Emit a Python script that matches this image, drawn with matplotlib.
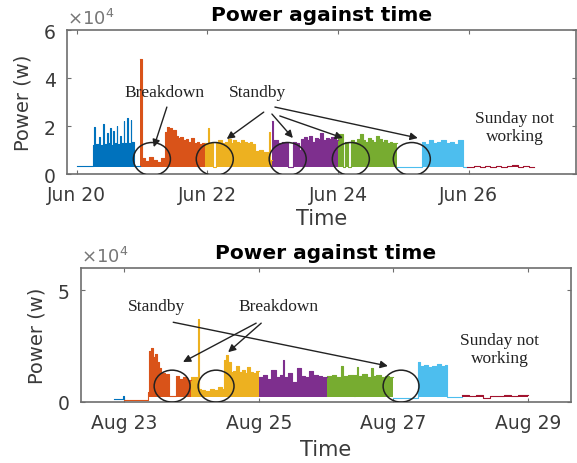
import matplotlib
matplotlib.use("Agg")
import matplotlib.pyplot as plt
import matplotlib.dates as mdates
from matplotlib.patches import Ellipse
import numpy as np

# MATLAB default line colours, one per day
day_colors = ["#0072BD", "#D95319", "#EDB120", "#7E2F8E", "#77AC30", "#4DBEEE", "#A2142F"]

# ---- June week: hours since Jun 20 00:00, power in units of 1e4 W ----
jun_start = "2017-06-20"
jun_t = [
    [0.0, 5.9, 6.5, 6.8, 8.3, 8.6, 9.8, 10.1, 11.0, 11.3, 12.2, 12.5, 13.3, 13.6, 14.6, 14.9,
     15.9, 16.2, 17.2, 17.5, 18.6, 18.9, 19.8, 20.1, 20.9, 23.4],
    [23.4, 23.8, 25.0, 26.5, 28.0, 29.5, 31.0, 32.4, 33.0, 33.8, 34.3, 35.0, 35.5, 36.5, 37.2,
     38.0, 39.0, 40.0, 41.0, 42.0, 43.0, 44.0, 45.0, 46.0, 47.0],
    [47.0, 48.3, 48.7, 50.0, 51.2, 52.0, 53.5, 54.5, 55.5, 56.5, 57.5, 58.5, 59.5, 60.5, 61.5,
     62.5, 63.5, 64.5, 65.4, 67.0, 68.5, 70.6, 71.0, 71.8],
    [71.8, 72.1, 72.4, 74.0, 75.5, 77.5, 79.4, 80.5, 81.5, 82.5, 83.5, 84.5, 85.5, 86.5, 87.5,
     88.5, 89.5, 90.5, 91.5, 92.5, 93.5, 94.5, 95.3, 96.0],
    [96.0, 97.7, 98.4, 99.6, 100.8, 102.0, 103.0, 104.0, 105.0, 106.0, 107.0, 108.0, 109.0,
     110.0, 111.0, 112.0, 113.0, 114.0, 115.0, 116.0, 117.6],
    [117.6, 126.7, 128.0, 129.5, 131.0, 132.5, 134.0, 135.5, 137.0, 138.5, 140.0, 141.8, 143.5],
    [143.5, 146.0, 148.0, 150.0, 152.0, 154.0, 156.0, 158.0, 160.0, 162.0, 164.0, 166.0, 168.0],
]
jun_p = [
    [0.35, 1.2, 1.95, 1.25, 1.55, 1.2, 2.1, 1.25, 1.7, 1.3, 1.9, 1.2, 1.8, 1.3, 2.0, 1.25,
     1.6, 1.3, 2.2, 1.3, 2.35, 1.3, 2.25, 1.35, 0.32, 0.32],
    [4.8, 0.65, 0.55, 0.7, 0.6, 0.5, 0.65, 1.75, 1.95, 1.8, 1.9, 1.7, 1.85, 1.6, 1.5,
     1.55, 1.4, 1.45, 1.35, 1.5, 1.3, 1.35, 1.25, 1.3, 1.3],
    [1.3, 1.9, 1.3, 0.3, 1.35, 1.4, 1.3, 1.35, 1.45, 1.3, 1.4, 1.35, 1.3, 1.4, 1.35,
     1.3, 1.35, 1.25, 0.95, 1.0, 0.9, 1.75, 0.6, 0.6],
    [2.2, 1.3, 1.4, 1.3, 1.35, 0.3, 1.35, 1.3, 1.0, 1.45, 1.55, 1.4, 1.6, 1.35, 1.5,
     1.45, 1.7, 1.4, 1.5, 1.45, 1.55, 1.5, 1.4, 1.4],
    [1.65, 0.3, 1.35, 0.3, 1.4, 1.35, 1.45, 1.65, 1.4, 1.35, 1.5, 1.4, 1.35,
     1.6, 1.45, 1.35, 1.4, 1.3, 1.35, 1.3, 1.3],
    [0.28, 1.35, 1.25, 1.4, 1.3, 1.35, 1.4, 1.3, 1.35, 1.25, 1.4, 0.28, 0.28],
    [0.3, 0.33, 0.28, 0.32, 0.3, 0.35, 0.28, 0.33, 0.38, 0.3, 0.34, 0.3, 0.3],
]
jun_ticks = ["2017-06-20", "2017-06-22", "2017-06-24", "2017-06-26"]

# ---- August week: hours since Aug 23 00:00 ----
aug_start = "2017-08-23"
aug_t = [
    [-3.8, -0.3, 0.0],
    [0.0, 8.6, 8.9, 9.5, 10.3, 11.0, 11.7, 12.5, 13.3, 14.5, 16.1, 18.5, 19.5, 21.0, 22.5, 24.0],
    [24.0, 26.2, 26.6, 27.5, 29.0, 30.5, 32.0, 33.5, 35.0, 35.7, 36.3, 37.0, 38.2, 39.0, 40.0,
     41.0, 42.0, 43.0, 44.0, 45.0, 46.0, 47.0, 48.0],
    [48.0, 49.5, 51.0, 52.5, 54.0, 55.5, 56.5, 57.0, 58.5, 60.0, 61.5, 63.0, 64.5, 66.0, 67.5,
     69.0, 70.5, 72.5],
    [72.5, 74.0, 75.5, 77.5, 78.2, 80.0, 82.1, 82.5, 83.0, 83.6, 85.0, 86.5, 88.2, 88.8, 90.0,
     91.5, 93.0, 94.5, 96.0],
    [96.0, 104.9, 105.5, 107.0, 108.5, 110.0, 111.5, 113.0, 114.5, 115.2, 120.5],
    [120.5, 123.0, 125.5, 128.0, 130.5, 133.0, 135.5, 138.0, 140.5, 144.0],
]
aug_p = [
    [0.12, 0.25, 0.12],
    [0.1, 0.45, 2.3, 2.4, 2.0, 2.15, 1.8, 1.5, 1.3, 1.25, 0.25, 1.15, 1.05, 1.1, 1.0, 1.0],
    [1.1, 3.7, 0.6, 0.55, 0.5, 0.6, 0.55, 0.65, 0.6, 1.9, 2.1, 1.8, 1.35, 1.4, 1.6,
     1.35, 1.45, 1.3, 1.55, 1.35, 1.3, 1.4, 1.4],
    [1.1, 1.2, 1.05, 1.45, 1.1, 1.2, 1.9, 1.1, 1.3, 0.9, 1.5, 1.15, 1.1, 1.4, 1.2,
     1.15, 1.1, 1.1],
    [1.15, 1.2, 1.1, 1.6, 1.15, 1.2, 0.25, 1.2, 1.55, 1.15, 1.25, 1.1, 1.5, 1.15, 1.2,
     1.1, 1.15, 1.1, 1.1],
    [0.18, 1.8, 1.6, 1.65, 1.55, 1.6, 1.7, 1.6, 1.65, 0.22, 0.22],
    [0.3, 0.25, 0.3, 0.2, 0.28, 0.25, 0.3, 0.27, 0.3, 0.3],
]
aug_ticks = ["2017-08-23", "2017-08-25", "2017-08-27", "2017-08-29"]

# annotations: (label, hour, power)
jun_labels = [("Breakdown", 32.3, 3.42), ("Standby", 66.5, 3.42), ("Sunday not\nworking", 161.0, 1.96)]
jun_circles = [27.6, 50.7, 77.5, 100.7, 123.1]
jun_arrows = [((33.1, 2.79), (28.3, 1.12)), ((68.7, 2.58), (55.1, 1.46)),
              ((71.7, 2.5), (79.4, 1.5)), ((74.6, 2.42), (97.8, 1.5)),
              ((72.8, 2.79), (125.3, 1.5))]
aug_labels = [("Standby", 11.4, 4.29), ("Breakdown", 54.9, 4.29), ("Sunday not\nworking", 134.1, 2.37)]
aug_circles = [17.1, 32.8, 98.8]
aug_arrows = [((17.5, 3.57), (94.1, 1.61)), ((47.1, 3.53), (21.0, 1.79)),
              ((48.9, 3.53), (37.1, 2.23))]

TXT = "#3a3a3a"
SPINE = "#6e6e6e"


def hx(start, h):
    return mdates.date2num(np.datetime64(start)) + np.asarray(h) / 24.0


def draw_week(ax, start, seg_t, seg_p, base):
    for c, t, p in zip(day_colors, seg_t, seg_p):
        x = hx(start, t)
        y = np.asarray(p)
        ax.fill_between(x, np.minimum(y, base), y, step="post", color=c, lw=0)
        ax.step(x, y, where="post", color=c, lw=0.8)


def style(ax, start, ticks, xlim, yticks, xlabelpad):
    ax.set_xlim(hx(start, xlim[0]), hx(start, xlim[1]))
    ax.set_ylim(0, 6)
    ax.set_yticks(yticks)
    ax.set_xticks([mdates.date2num(np.datetime64(d)) for d in ticks])
    ax.xaxis.set_major_formatter(mdates.DateFormatter("%b %d"))
    ax.tick_params(direction="in", length=3, top=True, right=True, colors=SPINE,
                   labelcolor=TXT, labelsize=13.5)
    ax.tick_params(axis="x", pad=8)
    ax.tick_params(axis="y", pad=8)
    for s in ax.spines.values():
        s.set_color(SPINE)
        s.set_linewidth(1.2)
    ax.set_title("Power against time", fontsize=14.5, fontweight="bold", pad=7)
    ax.set_xlabel("Time", fontsize=15, color=TXT, labelpad=xlabelpad)
    ax.set_ylabel("Power (w)", fontsize=14, color=TXT, labelpad=8)
    ax.text(0, 1.015, r"$\times10^4$", transform=ax.transAxes, fontsize=13, color="#777777",
            va="bottom", ha="left")


def annotate(ax, start, labels, circles, arrows, cw, ch, cy):
    for txt, h, v in labels:
        ax.text(hx(start, h), v, txt, family="Liberation Serif", fontsize=12.5, ha="center",
                va="center", color="#222222", linespacing=1.1)
    for h in circles:
        ax.add_patch(Ellipse((hx(start, h), cy), cw / 24.0, ch, fill=False, lw=1.1,
                             color="#222222", zorder=5))
    for (h0, v0), (h1, v1) in arrows:
        ax.annotate("", xy=(hx(start, h1), v1), xytext=(hx(start, h0), v0),
                    arrowprops=dict(arrowstyle="-|>", color="#222222", lw=1.0,
                                    mutation_scale=11, shrinkA=0, shrinkB=0), zorder=6)


fig = plt.figure(figsize=(5.77, 4.64), dpi=100)
ax1 = fig.add_axes([0.1161, 0.6228, 0.882, 0.3103])
ax2 = fig.add_axes([0.1404, 0.1315, 0.849, 0.2888])

draw_week(ax1, jun_start, jun_t, jun_p, 0.3)
style(ax1, jun_start, jun_ticks, (-3.6, 183.4), [0, 2, 4, 6], 3)
annotate(ax1, jun_start, jun_labels, jun_circles, jun_arrows, 13.6, 1.375, 0.625)

draw_week(ax2, aug_start, aug_t, aug_p, 0.22)
style(ax2, aug_start, aug_ticks, (-15.4, 159.4), [0, 5], 5)
annotate(ax2, aug_start, aug_labels, aug_circles, aug_arrows, 12.8, 1.43, 0.71)

fig.savefig("out.png", dpi=100)
